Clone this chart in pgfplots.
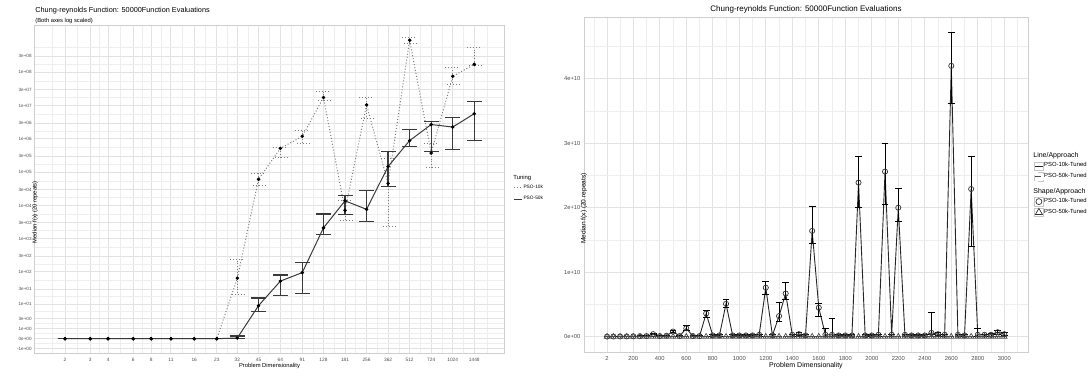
\documentclass[border=0pt]{standalone}
\usepackage{fontspec}
\setmainfont{Liberation Sans}
\usepackage{pgfplots}
\pgfplotsset{compat=1.18}
\usepackage{pgfplotstable}

\newcommand\fs[1]{\fontsize{#1}{#1}\selectfont}
\definecolor{gridmaj}{HTML}{E2E2E2}
\definecolor{gridmin}{HTML}{EEEEEE}
\definecolor{frame}{HTML}{CFCFCF}
\definecolor{ticktxt}{HTML}{4D4D4D}
\definecolor{tenk}{HTML}{7F7F7F}
\definecolor{fiftyk}{HTML}{3A3A3A}

% Left panel: median f(x) by dimension (raw values; plotted as log10(1+f))
\pgfplotstableread{
d     m1      l1      h1       m2      l2      h2
2     0       0       0        0       0       0
3     0       0       0        0       0       0
4     0       0       0        0       0       0
6     0       0       0        0       0       0
8     0       0       0        0       0       0
11    0       0       0        0       0       0
16    0       0       0        0       0       0
23    0       0       0        0       0       0
32    65      20      245      0.05    0       0.2
45    6.1e4   4.1e4   9.3e4    8.8     5.6     15.8
64    5.2e5   2.8e5   5.7e5    52.7    18.8    80.6
91    1.2e6   7.2e5   1.78e6   95.6    21.2    193
128   1.75e7  1.39e7  2.6e7    2130    1335    5550
181   7150    3550    1.4e4    1.38e4  5300    1.96e4
256   1.05e7  4.1e6   1.76e7   7670    3310    2.9e4
362   4.6e4   2340    2.6e5    1.48e5  3.67e4  4.24e5
512   9.2e8   7.3e8   1.1e9    8.9e5   6e5     1.9e6
724   3.76e5  1.41e5  7.2e5    2.7e6   4.2e5   3.4e6
1024  7.6e7   4.27e7  1.35e8   2.27e6  4.7e5   4.3e6
1448  1.73e8  1.6e8   5.5e8    5.7e6   9.1e5   1.3e7
}\leftdata

% Right panel: median f(x) by dimension, linear scale
\pgfplotstableread{
d     m1       l1       h1        m2     l2     h2
2     2e7      1e7      4e7       5e6    0      1e7
50    3e7      1e7      5e7       5e6    0      1e7
100   4e7      2e7      6e7       6e6    0      1.2e7
150   5e7      2e7      8e7       6e6    0      1.2e7
200   6e7      3e7      1e8       7e6    0      1.5e7
250   8e7      4e7      1.2e8     7e6    0      1.5e7
300   1e8      5e7      1.5e8     8e6    0      1.6e7
350   4e8      3e8      5e8       8e6    0      1.6e7
400   1e8      5e7      1.5e8     9e6    0      2e7
450   1.5e8    1e8      2e8       9e6    0      2e7
500   8e8      6e8      1e9       1e7    0      2e7
550   1e8      5e7      1.5e8     1e7    0      2e7
600   1.3e9    1e9      1.7e9     1e7    0      2e7
650   1e8      5e7      1.5e8     1e7    0      2e7
700   1e8      5e7      1.5e8     1e7    0      2e7
750   3.6e9    3e9      4.1e9     1.2e7  0      2.5e7
800   2e8      1e8      3e8       1.2e7  0      2.5e7
850   2e8      1e8      3e8       1.2e7  0      2.5e7
900   5.1e9    4.5e9    5.8e9     1.2e7  0      2.5e7
950   2e8      1e8      3e8       1.3e7  0      2.5e7
1000  2e8      1e8      3e8       1.3e7  0      2.5e7
1050  2e8      1e8      3e8       1.3e7  0      2.5e7
1100  2e8      1e8      3e8       1.4e7  0      3e7
1150  3e8      1e8      4e8       1.4e7  0      3e7
1200  7.6e9    6.5e9    8.6e9     1.4e7  0      3e7
1250  2e8      1e8      3e8       1.5e7  0      3e7
1300  3.2e9    2.3e9    5.3e9     1.5e7  0      3e7
1350  6.7e9    5.7e9    8.4e9     1.5e7  0      3e7
1400  3e8      1e8      4e8       1.5e7  0      3e7
1450  4e8      2e8      6e8       1.6e7  0      3e7
1500  2e8      1e8      3e8       1.6e7  0      3e7
1550  1.64e10  1.45e10  2.02e10   1.6e7  0      3e7
1600  4.5e9    3.1e9    5.2e9     1.7e7  0      3.5e7
1650  3e8      1e8      1.2e9     1.7e7  0      3.5e7
1700  3e8      1e8      2.9e9     1.7e7  0      3.5e7
1750  2e8      1e8      3e8       1.8e7  0      3.5e7
1800  2e8      1e8      3e8       1.8e7  0      3.5e7
1850  2e8      1e8      3e8       1.8e7  0      3.5e7
1900  2.39e10  2.0e10   2.79e10   1.9e7  0      4e7
1950  2e8      1e8      3e8       1.9e7  0      4e7
2000  2e8      1e8      3e8       1.9e7  0      4e7
2050  3e8      1e8      4e8       2e7    0      4e7
2100  2.56e10  2.05e10  3.0e10    2e7    0      4e7
2150  3e8      1e8      4e8       2e7    0      4e7
2200  2.0e10   1.78e10  2.3e10    2e7    0      4e7
2250  3e8      1e8      4e8       2.1e7  0      4e7
2300  2e8      1e8      3e8       2.1e7  0      4e7
2350  2e8      1e8      3e8       2.1e7  0      4e7
2400  2e8      1e8      3e8       2.2e7  0      4.5e7
2450  6e8      3e8      3.8e9     2.2e7  0      4.5e7
2500  4e8      2e8      6e8       2.2e7  0      4.5e7
2550  3e8      1e8      4e8       2.3e7  0      4.5e7
2600  4.2e10   3.61e10  4.72e10   2.3e7  0      4.5e7
2650  3e8      1e8      4e8       2.3e7  0      4.5e7
2700  2e8      1e8      3e8       2.4e7  0      5e7
2750  2.29e10  1.4e10   2.79e10   2.4e7  0      5e7
2800  3e8      1e8      1.3e9     2.4e7  0      5e7
2850  3e8      1e8      4e8       2.5e7  0      5e7
2900  3e8      1e8      5e8       2.5e7  0      5e7
2950  7e8      4e8      1e9       2.5e7  0      5e7
3000  4e8      2e8      6e8       2.5e7  0      5e7
}\rightdata

\pgfplotsset{
  panel/.style={
    scale only axis,
    axis line style={frame, line width=0.5pt},
    major grid style={gridmaj, line width=0.5pt},
    minor grid style={gridmin, line width=0.35pt},
    xmajorgrids, ymajorgrids, xminorgrids, yminorgrids,
    major tick length=0pt, minor tick length=0pt,
    tick style={draw=none},
    clip=true,
  },
}

\begin{document}
\begin{tikzpicture}
\useasboundingbox (0,0) rectangle (544.5pt,-188.5pt);

% ---------- left panel: log-log view ----------
\begin{axis}[panel,
  at={(17.5pt,-12.5pt)}, anchor=north west,
  width=234.5pt, height=164pt,
  xmode=log, xmin=1.234, xmax=2337,
  ymin=-0.43, ymax=9.42,
  xtick={2,3,4,6,8,11,16,23,32,45,64,91,128,181,256,362,512,724,1024,1448},
  xticklabels={2,3,4,6,8,11,16,23,32,45,64,91,128,181,256,362,512,724,1024,1448},
  minor xtick={1.64,2.449,3.464,4.899,6.928,9.381,13.27,19.18,27.13,37.95,53.67,76.32,107.9,152.2,215.3,304.4,430.5,608.8,861.0,1217.7,1796},
  ytick={-0.30103,0,0.30103,0.60206,1.04139,1.49136,2.00432,2.47857,3.00043,3.47727,4.00004,4.47713,5,5.47712,6,6.47712,7,7.47712,8,8.47712},
  yticklabels={-1e+00,0e+00,1e+00,3e+00,1e+01,3e+01,1e+02,3e+02,1e+03,3e+03,1e+04,3e+04,1e+05,3e+05,1e+06,3e+06,1e+07,3e+07,1e+08,3e+08},
  minor ytick={-0.1505,0.1505,0.4515,0.8217,1.2664,1.7478,2.2414,2.7395,3.2389,3.7387,4.2386,4.7386,5.2386,5.7386,6.2386,6.7386,7.2386,7.7386,8.2386,8.7386},
  xticklabel style={font=\fs{2.4}, text=ticktxt, inner sep=0pt, yshift=-2.2pt},
  yticklabel style={font=\fs{2.3}, text=ticktxt, inner sep=0pt, xshift=-1.5pt},
  xlabel={Problem Dimensionality},
  xlabel style={font=\fs{2.9}, at={(axis description cs:0.5,0)}, anchor=center, yshift=-6.4pt},
  ylabel={Median f(x) (20 repeats)},
  ylabel style={font=\fs{2.9}, at={(axis description cs:0,0.5)}, anchor=center, rotate=0, xshift=-11.6pt},
  legend style={at={(1.019,0.4866)}, anchor=west, draw=none, fill=none,
    font=\fs{2.4}, row sep=1.6pt, inner sep=0pt,
    nodes={inner sep=0.4pt, anchor=west}},
  legend cell align=left,
  legend image code/.code={\draw[#1] (0pt,0pt) -- (4.2pt,0pt);},
]
\addplot[tenk, densely dotted, line width=0.5pt, mark=*, mark size=0.6pt,
  mark options={solid, fill=black, draw=black},
  error bars/.cd, y dir=both, y explicit,
  error bar style={tenk, densely dotted, line width=0.5pt},
  error mark options={tenk, densely dotted, line width=0.5pt, mark size=3.75pt, rotate=90}]
  table[x=d, y expr={log10(1+\thisrow{m1})},
        y error plus expr={log10(1+\thisrow{h1})-log10(1+\thisrow{m1})},
        y error minus expr={log10(1+\thisrow{m1})-log10(1+\thisrow{l1})}] \leftdata;
\addlegendentry{PSO-10k}
\addplot[fiftyk, solid, line width=0.5pt, mark=*, mark size=0.6pt,
  mark options={solid, fill=black, draw=black},
  error bars/.cd, y dir=both, y explicit,
  error bar style={fiftyk, solid, line width=0.6pt},
  error mark options={fiftyk, solid, line width=0.6pt, mark size=3.75pt, rotate=90}]
  table[x=d, y expr={log10(1+\thisrow{m2})},
        y error plus expr={log10(1+\thisrow{h2})-log10(1+\thisrow{m2})},
        y error minus expr={log10(1+\thisrow{m2})-log10(1+\thisrow{l2})}] \leftdata;
\addlegendentry{PSO-50k}
\end{axis}

% ---------- right panel: linear view ----------
\begin{axis}[panel,
  at={(292pt,-8.5pt)}, anchor=north west,
  width=222pt, height=167.5pt,
  xmin=-172, xmax=3179,
  ymin=-2.37e9, ymax=4.957e10,
  scaled y ticks=false, scaled x ticks=false,
  xtick={2,200,400,600,800,1000,1200,1400,1600,1800,2000,2200,2400,2600,2800,3000},
  xticklabels={2,200,400,600,800,1000,1200,1400,1600,1800,2000,2200,2400,2600,2800,3000},
  minor xtick={-97,101,300,500,700,900,1100,1300,1500,1700,1900,2100,2300,2500,2700,2900,3100},
  ytick={0,1e10,2e10,3e10,4e10},
  yticklabels={0e+00,1e+10,2e+10,3e+10,4e+10},
  minor ytick={5e9,1.5e10,2.5e10,3.5e10,4.5e10},
  xticklabel style={font=\fs{2.9}, text=ticktxt, inner sep=0pt, yshift=-1.9pt},
  yticklabel style={font=\fs{2.9}, text=ticktxt, inner sep=0pt, xshift=-1.6pt},
  xlabel={Problem Dimensionality},
  xlabel style={font=\fs{3.5}, at={(axis description cs:0.5,0)}, anchor=center, yshift=-6.9pt},
  ylabel={Median f(x) (20 repeats)},
  ylabel style={font=\fs{3.3}, at={(axis description cs:0,0.5)}, anchor=center, rotate=0, xshift=-12pt},
  legend style={at={(1.0135,0.5388)}, anchor=west, draw=none, fill=none,
    font=\fs{2.95}, row sep=0.9pt, inner sep=0pt,
    nodes={inner sep=0.4pt, anchor=west}},
  legend cell align=left,
  legend image code/.code={
    \draw[gray!45, line width=0.3pt] (0pt,-2.1pt) rectangle (4.2pt,2.1pt);
    \draw[#1] (0.3pt,0pt) -- (3.9pt,0pt);},
]
\addplot[black!85, solid, line width=0.45pt, mark=o, mark size=1.3pt,
  mark options={solid, draw=black!80, line width=0.35pt},
  error bars/.cd, y dir=both, y explicit,
  error bar style={black, solid, line width=0.5pt},
  error mark options={black, solid, line width=0.5pt, mark size=1.7pt, rotate=90}]
  table[x=d, y=m1,
        y error plus expr={\thisrow{h1}-\thisrow{m1}},
        y error minus expr={\thisrow{m1}-\thisrow{l1}}] \rightdata;
\addlegendentry{PSO-10k-Tuned}
\addplot[black!70, dashed, line width=0.45pt, mark=triangle, mark size=1.6pt,
  mark options={solid, draw=black!70, line width=0.35pt},
  error bars/.cd, y dir=both, y explicit,
  error bar style={black!70, solid, line width=0.4pt},
  error mark options={black!70, solid, line width=0.4pt, mark size=1.5pt, rotate=90}]
  table[x=d, y=m2,
        y error plus expr={\thisrow{h2}-\thisrow{m2}},
        y error minus expr={\thisrow{m2}-\thisrow{l2}}] \rightdata;
\addlegendentry{PSO-50k-Tuned}
\end{axis}

% second legend of the right panel (point shapes)
\begin{axis}[
  at={(292pt,-8.5pt)}, anchor=north west, scale only axis,
  width=222pt, height=167.5pt, hide axis,
  xmin=0, xmax=1, ymin=0, ymax=1,
  legend style={at={(1.0135,0.4328)}, anchor=west, draw=none, fill=none,
    font=\fs{2.95}, row sep=0.9pt, inner sep=0pt,
    nodes={inner sep=0.4pt, anchor=west}},
  legend cell align=left,
  legend image code/.code={
    \draw[gray!45, line width=0.3pt] (0pt,-2.1pt) rectangle (4.2pt,2.1pt);
    \draw[#1] plot coordinates {(2.1pt,0pt)};},
]
\addlegendimage{only marks, mark=o, mark size=1.5pt, black!80, line width=0.35pt}
\addlegendentry{PSO-10k-Tuned}
\addlegendimage{only marks, mark=triangle, mark size=2pt, black!80, line width=0.35pt}
\addlegendentry{PSO-50k-Tuned}
\end{axis}

% titles and legend headings
\node[anchor=west, inner sep=0pt] at (17.5pt,-5.15pt) {\fs{3.65}Chung-reynolds Function: 50000Function Evaluations};
\node[anchor=west, inner sep=0pt] at (17.5pt,-10.3pt) {\fs{2.9}(Both axes log scaled)};
\node[anchor=center, inner sep=0pt] at (403pt,-4.9pt) {\fs{4.0}Chung-reynolds Function: 50000Function Evaluations};
\node[anchor=west, inner sep=0pt] at (256.5pt,-89pt) {\fs{2.95}Tuning};
\node[anchor=west, inner sep=0pt] at (516.5pt,-77.8pt) {\fs{3.5}Line/Approach};
\node[anchor=west, inner sep=0pt] at (516.5pt,-95.9pt) {\fs{3.5}Shape/Approach};
\end{tikzpicture}
\end{document}
